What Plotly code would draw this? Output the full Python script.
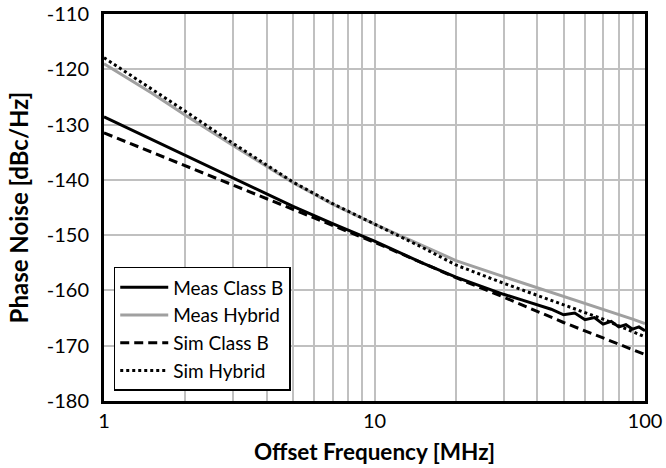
import plotly.graph_objects as go

# Measured class-B oscillator phase noise (noisy at high offsets), MHz / dBc/Hz
meas_b_freq = [1, 1.5, 2, 3, 4, 5, 7, 10, 15, 20, 25, 30, 35, 40, 45, 50, 55, 60,
               65, 70, 75, 80, 85, 90, 95, 100]
meas_b = [-128.6, -132.7, -135.6, -139.7, -142.6, -144.8, -147.9, -151.1, -155.0,
          -157.6, -159.3, -160.7, -161.7, -162.6, -163.4, -164.4, -164.1,
          -165.3, -164.9, -166.1, -165.6, -166.6, -166.2, -167.0, -166.6, -167.3]

# Measured hybrid oscillator phase noise
meas_h_freq = [1, 1.5, 2, 3, 5, 7, 10, 15, 20, 30, 40, 50, 60, 70, 80, 90, 100]
meas_h = [-119.0, -124.3, -128.3, -133.8, -140.5, -144.4, -148.0, -151.9,
          -154.6, -157.5, -159.5, -161.0, -162.3, -163.4, -164.3, -165.2, -166.0]

# Simulated curves
sim_freq = [1, 1.5, 2, 3, 4, 5, 7, 10, 15, 20, 30, 50, 70, 100]
sim_b = [-131.5, -135.0, -137.5, -141.0, -143.5, -145.4, -148.3, -151.3,
         -155.0, -157.7, -161.2, -165.8, -168.6, -171.6]
sim_h = [-117.9, -123.5, -127.6, -133.4, -137.3, -140.4, -144.3, -148.0,
         -152.2, -155.4, -158.7, -162.6, -165.2, -168.4]

x_grid = [1, 2, 3, 4, 5, 6, 7, 8, 9, 10, 20, 30, 40, 50, 60, 70, 80, 90, 100]
x_text = [str(v) if v in (1, 10, 100) else "" for v in x_grid]
y_ticks = [-180, -170, -160, -150, -140, -130, -120, -110]
y_text = [str(v) for v in y_ticks]

FONT = "Lato"

fig = go.Figure()
fig.add_trace(go.Scatter(x=meas_b_freq, y=meas_b, mode="lines", name="Meas Class B",
                         line=dict(color="black", width=3)))
fig.add_trace(go.Scatter(x=meas_h_freq, y=meas_h, mode="lines", name="Meas Hybrid",
                         line=dict(color="#a0a0a0", width=3)))
fig.add_trace(go.Scatter(x=sim_freq, y=sim_b, mode="lines", name="Sim Class B",
                         line=dict(color="black", width=3, dash="9px,5px")))
fig.add_trace(go.Scatter(x=sim_freq, y=sim_h, mode="lines", name="Sim Hybrid",
                         line=dict(color="black", width=3, dash="dot")))

fig.update_layout(
    width=666, height=468,
    margin=dict(l=104, r=21, t=14, b=67),
    paper_bgcolor="white", plot_bgcolor="white",
    font=dict(family=FONT, color="black", size=20),
    showlegend=True,
    legend=dict(x=0.018, y=0.026, xanchor="left", yanchor="bottom",
                bgcolor="white", bordercolor="black", borderwidth=1.5,
                font=dict(family=FONT, size=19), tracegroupgap=0, itemwidth=48),
)
fig.update_xaxes(type="log", range=[0, 2], tickvals=x_grid, ticktext=x_text,
                 showgrid=True, gridcolor="#c0c0c0", gridwidth=2,
                 showline=True, linecolor="black", linewidth=3, mirror=True,
                 ticks="", tickfont=dict(size=20), automargin=False,
                 ticklabeloverflow="allow",
                 title=dict(text="<b>Offset Frequency [MHz]</b>", font=dict(size=22.5), standoff=14))
fig.update_yaxes(range=[-180, -110], tickvals=y_ticks, ticktext=y_text,
                 showgrid=True, gridcolor="#c0c0c0", gridwidth=2,
                 showline=True, linecolor="black", linewidth=3, mirror=True,
                 ticks="", tickfont=dict(size=20), zeroline=False, ticklabelstandoff=8,
                 automargin=False, ticklabeloverflow="allow",
                 title=dict(text="<b>Phase Noise [dBc/Hz]</b>", font=dict(size=24), standoff=12))

fig.write_html("out.html")
